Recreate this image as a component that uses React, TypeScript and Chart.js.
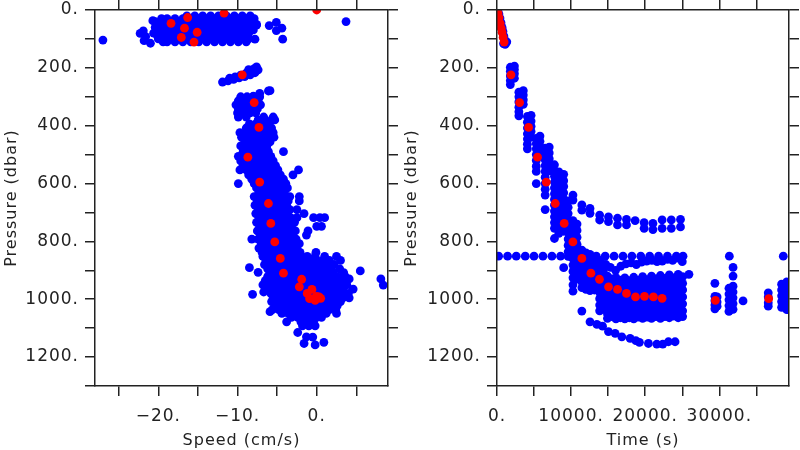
import React, { useEffect, useRef } from 'react';
import { Chart, registerables } from 'chart.js';

Chart.register(...registerables);

// ---------- axes ----------
const pressureTicks = [0, 100, 200, 300, 400, 500, 600, 700, 800, 900, 1000, 1100, 1200, 1300];
const pressureTicksRight = [0, 100, 200, 300, 400, 500, 600, 700, 800, 900, 1000, 1100, 1200];
const pressureLabels = [0, 200, 400, 600, 800, 1000, 1200];
const speedTicks = [-25, -20, -15, -10, -5, 0, 5];
const speedLabels = [-20, -10, 0];
const timeTicks = [0, 5000, 10000, 15000, 20000, 25000, 30000, 35000];
const timeLabels = [0, 10000, 20000, 30000];

// ---------- red (bin means) ----------
const redPressure = [0, 11, 26, 46, 63, 77, 95, 111, 224, 320, 406, 509, 595, 669, 738, 802, 859, 910, 931, 957, 966, 980, 992, 990, 992, 997, 1004, 998];
const redSpeed = [0, -11.7, -16.3, -18.4, -16.7, -15.1, -17.1, -15.5, -9.4, -7.9, -7.3, -8.7, -7.2, -6.1, -5.8, -5.3, -4.6, -4.2, -1.9, -2.2, -0.6, -1.2, -0.1, 0.0, 0.3, 0.5, -0.2, -0.9];
const redTime = [0, 140, 270, 430, 560, 680, 830, 960, 1887, 3050, 4260, 5470, 6645, 7860, 9070, 10240, 11450, 12670, 13830, 15050, 16260, 17470, 18690, 19900, 21110, 22280, 29470, 36660];

// ---------- blue: speed vs pressure ----------
const blobPressure = [20, 30, 40, 50, 60, 70, 80, 90, 100, 110];
const blobSpeeds = [
  [-16.4, -15.4, -14.4, -13.4, -12.4, -11.4, -10.4, -9.4, -8.4],
  [-19.6, -18.9, -17.9, -16.9, -15.9, -14.9, -13.9, -12.9, -11.9, -10.9, -9.9, -8.9, -7.9],
  [-20.4, -19.4, -18.4, -17.4, -16.4, -15.4, -14.4, -13.4, -12.4, -11.4, -10.4, -9.4, -8.4],
  [-20.2, -19.1, -18.1, -17.1, -16.1, -15.1, -14.1, -13.1, -12.1, -11.1, -10.1, -9.1, -8.1, -7.6],
  [-20.4, -19.6, -18.6, -17.6, -16.6, -15.6, -14.6, -13.6, -12.6, -11.6, -10.6, -9.6, -8.6],
  [-20.1, -19.1, -18.1, -17.1, -16.1, -15.1, -14.1, -13.1, -12.1, -11.1, -10.1, -9.1, -8.3],
  [-20.6, -19.6, -18.6, -17.6, -16.6, -15.6, -14.6, -13.6, -12.6, -11.6, -10.6, -9.6, -8.6],
  [-20.1, -19.1, -18.1, -17.1, -16.1, -15.1, -14.1, -13.1, -12.1, -11.1, -10.1, -9.1],
  [-20.0, -19.6, -18.6, -17.6, -16.6, -15.6, -14.6, -13.6, -12.6, -11.6, -10.6, -9.6, -8.6],
  [-19.4, -18.9, -17.9, -16.9, -15.9, -14.9, -13.9, -12.9, -11.9, -10.9, -9.9, -8.9],
];
const speedExtras = [
  [-27.0, 104], [3.7, 40], [-22.3, 81], [-21.9, 72], [-21.6, 92], [-21.8, 106], [-21.0, 115], [-20.7, 37],
  [-6.0, 54], [-5.1, 43], [-4.4, 63], [-5.1, 71], [-4.3, 101], [-7.8, 101], [-8.0, 69], [-7.6, 52],
  [-11.9, 249], [-11.2, 245], [-10.5, 240], [-9.8, 235], [-9.1, 230], [-8.4, 224], [-7.8, 217], [-7.4, 207],
  [-7.6, 197], [-11.0, 236], [-10.3, 231], [-9.6, 225], [-8.9, 218], [-8.2, 211], [-7.9, 203], [-8.6, 206],
  [-6.1, 280], [-7.2, 288], [-8.8, 304], [-8.0, 298], [-5.9, 279],
  [-8.5, 891], [-7.4, 907], [5.5, 902], [8.1, 930], [8.4, 951], [4.1, 930], [-8.1, 983], [-6.7, 975],
  [-5.9, 1043], [-3.8, 1078], [-2.4, 1115], [-1.3, 1130], [-0.5, 1131], [-1.6, 1153], [-0.2, 1158], [0.9, 1149],
];
const bandPressure = [300, 314, 328, 342, 356, 370, 380, 394, 408, 424, 440, 456, 470, 490, 506, 522, 538, 553, 570, 585, 600, 615, 630, 645, 660, 675, 690, 704, 718, 734, 748, 764, 778, 792, 808, 823, 838, 852, 866, 880, 895, 908, 922, 936, 950, 965, 980, 995, 1008, 1022, 1036, 1049, 1063, 1078, 1092];
const bandSpeeds = [
  [-9.6, -8.8, -8.0, -7.2],
  [-9.9, -9.0, -8.2, -7.4],
  [-10.2, -9.4, -8.6, -7.8, -7.1],
  [-9.9, -9.1, -8.3, -7.5],
  [-10.0, -9.2, -8.4, -7.7],
  [-9.9, -8.9, -6.7, -5.5],
  [-7.4, -6.6, -5.7, -5.3],
  [-8.5, -7.7, -6.9, -6.1],
  [-8.9, -8.1, -6.5, -5.7],
  [-9.7, -8.8, -8.0, -7.2, -6.4, -5.5],
  [-9.5, -8.6, -7.8, -7.0, -6.2, -5.4],
  [-9.1, -8.3, -7.5, -6.7, -5.9],
  [-9.6, -8.7, -7.9, -7.1, -6.3],
  [-9.3, -8.5, -7.7, -6.9, -6.1, -4.2],
  [-9.9, -9.0, -8.2, -7.4, -6.6, -5.8],
  [-9.6, -8.8, -7.9, -7.1, -6.3, -5.5],
  [-9.3, -8.5, -7.7, -6.8, -6.0, -5.2],
  [-9.7, -8.9, -8.1, -7.3, -6.5, -5.7, -4.9, -2.3],
  [-8.6, -7.8, -7.0, -6.2, -5.4, -4.6, -3.0],
  [-8.2, -7.4, -6.6, -5.8, -5.0, -4.2],
  [-9.9, -7.9, -7.1, -6.3, -5.5, -4.7, -3.9],
  [-7.6, -6.8, -6.0, -5.2, -4.4, -3.7],
  [-7.3, -6.5, -5.7, -4.9, -4.1],
  [-7.9, -7.1, -6.3, -5.5, -4.7, -3.9, -3.4, -2.2],
  [-7.5, -6.7, -5.9, -5.1, -4.3, -3.6, -2.2],
  [-7.8, -7.0, -6.2, -5.4, -4.6, -3.8],
  [-7.4, -6.6, -5.8, -5.0, -4.2, -3.4, -2.5],
  [-7.7, -6.9, -6.1, -5.3, -4.5, -3.7, -1.6],
  [-7.3, -6.5, -5.7, -4.9, -4.1, -3.3, -2.5, -0.4, 0.4, 1.0],
  [-7.6, -6.8, -6.0, -5.2, -4.4, -3.6, -2.8],
  [-7.2, -6.4, -5.6, -4.8, -4.0, -3.2, 0.0, 0.6],
  [-7.5, -6.7, -5.9, -5.1, -4.3, -3.5, -2.7, -1.1],
  [-7.1, -6.3, -5.5, -4.7, -3.9, -3.1, -1.3],
  [-8.2, -7.4, -6.6, -5.8, -5.0, -4.2, -3.4, -2.6],
  [-7.0, -6.2, -5.4, -4.6, -3.8, -3.0, -2.2],
  [-7.3, -6.5, -5.7, -4.9, -4.1, -3.3, -2.5],
  [-6.9, -6.1, -5.3, -4.5, -3.7, -2.9, -2.1, -0.1],
  [-6.8, -6.0, -5.2, -4.4, -3.6, -2.8, -2.0, -1.2, -0.2, 1.0, 2.5],
  [-6.4, -5.6, -4.8, -4.0, -3.2, -2.4, -1.6, -0.8, 0.0, 0.8, 1.6, 3.0],
  [-6.6, -5.8, -5.0, -4.2, -3.4, -2.6, -1.8, -1.0, -0.2, 0.6, 1.4, 2.2],
  [-6.2, -5.4, -4.6, -3.8, -3.0, -2.2, -1.4, -0.6, 0.2, 1.0, 1.8, 2.9],
  [-5.9, -5.1, -4.3, -3.5, -2.7, -1.9, -1.1, -0.3, 0.5, 1.3, 2.1, 3.4],
  [-6.2, -5.4, -4.6, -3.8, -3.0, -2.2, -1.4, -0.6, 0.2, 1.0, 1.8, 2.6, 3.6],
  [-6.5, -5.7, -4.9, -4.1, -3.3, -2.5, -1.7, -0.9, -0.1, 0.7, 1.5, 2.3, 3.1],
  [-6.8, -6.0, -5.2, -4.4, -3.6, -2.8, -2.0, -1.2, -0.4, 0.4, 1.2, 2.0, 2.8, 3.8],
  [-6.3, -5.5, -4.7, -3.9, -3.1, -2.3, -1.5, -0.7, 0.1, 0.9, 1.7, 2.5, 3.3, 4.6],
  [-5.8, -5.0, -4.2, -3.4, -2.6, -1.8, -1.0, -0.2, 0.6, 1.4, 2.2, 3.0, 4.0],
  [-5.5, -4.7, -3.9, -3.1, -2.3, -1.5, -0.7, 0.1, 0.9, 1.7, 2.5, 3.3, 4.1],
  [-5.7, -5.0, -4.2, -3.4, -2.6, -1.8, -1.0, -0.2, 0.6, 1.4, 2.2, 3.0],
  [-5.3, -4.5, -3.7, -2.9, -2.1, -1.3, -0.5, 0.3, 1.1, 1.9, 2.6],
  [-5.6, -4.8, -4.0, -3.2, -2.4, -1.6, -0.8, 0.0, 0.8, 1.6, 2.4],
  [-4.4, -3.6, -2.8, -2.0, -1.2, -0.4, 0.4, 1.2, 2.5],
  [-3.2, -2.4, -1.6, -0.8, 0.0, 0.6],
  [-2.0, -1.2, -0.4],
  [-1.8, -1.0, -0.2],
];

// ---------- blue: time vs pressure ----------
const timeExtras = [
  [120, 4], [260, 14], [400, 28], [540, 44], [680, 60], [800, 74], [930, 90], [1060, 104], [1200, 114], [1320, 110], [1100, 119], [880, 116],
  [13480, 1087], [14240, 1093], [15040, 1112], [15940, 1118], [16840, 1130], [17960, 1135], [18730, 1143], [19220, 1149],
  [20430, 1153], [21560, 1155], [22370, 1155], [23130, 1147], [24030, 1147],
  [15040, 715], [15040, 732], [16260, 720], [16260, 743], [17470, 724], [17470, 743], [18640, 728], [19850, 735], [19850, 755],
  [21040, 738], [21040, 759], [22280, 726], [22280, 755], [23520, 726], [23520, 755], [24760, 724], [24760, 750],
  [14700, 880], [15300, 890], [16000, 900], [16700, 886], [17400, 878], [18100, 874], [18800, 880], [19500, 872], [20200, 868],
  [20900, 866], [21600, 870], [22300, 868], [23000, 862], [23700, 866], [24400, 858], [25000, 870], [25900, 914], [33200, 1006],
];
const row851Times = [220, 1430, 2600, 3810, 4990, 6200, 7410, 8580, 9790, 11000, 12200, 13400, 14600, 15800, 17000, 18200, 19400, 20600, 21800, 23000, 24200, 25100, 31350, 38630];
const colTimes = [1800, 2350, 2950, 3550, 4100, 4600, 5300, 5800, 6500, 7050, 7750, 8350, 9000, 9600, 10250, 10800, 11450, 12000, 12550, 13150, 13850, 14350,
  14900, 15450, 16050, 16650, 17250, 17850, 18450, 19050, 19650, 20250, 20850, 21450, 22050, 22650, 23250, 23850, 24450, 25050,
  29400, 29700, 31300, 31850, 36600, 38400, 39100, 39500];
const colPressures = [
  [198, 212, 228, 244, 258],
  [194, 206, 220, 236],
  [284, 300, 318, 336, 352, 366],
  [279, 294, 310, 326],
  [368, 388, 408, 428, 446, 464, 480],
  [364, 384, 402, 420, 440],
  [444, 462, 480, 500, 520, 540, 558, 600],
  [436, 454, 472, 490, 506],
  [478, 498, 518, 538, 558, 578, 600, 620, 640, 690],
  [474, 494, 514, 534, 556],
  [535, 555, 575, 595, 615, 635, 655, 675, 695, 715, 735, 755, 790],
  [560, 582, 604, 626, 648, 670, 692, 714, 736, 758, 772],
  [568, 590, 610, 632, 654, 676, 698, 720, 742, 765, 891],
  [660, 682, 704, 726, 748, 770, 792, 814, 836, 852],
  [640, 657, 728, 750, 772, 794, 816, 838, 860, 882, 904, 926, 950, 972],
  [740, 762, 786, 810, 834, 858, 882, 906, 930],
  [674, 692, 830, 852, 874, 896, 918, 940, 960, 1041],
  [840, 862, 884, 906, 928, 948, 966],
  [686, 703, 845, 866, 888, 910, 930, 950, 970, 1078],
  [860, 882, 904, 926, 948, 968],
  [709, 726, 866, 888, 910, 932, 954, 976, 998, 1020, 1040],
  [880, 902, 924, 946, 968, 990, 1012, 1034],
  [920, 942, 964, 986, 1008, 1030, 1050, 1066],
  [930, 952, 974, 996, 1018, 1040, 1060],
  [925, 947, 970, 992, 1014, 1036, 1056, 1068],
  [934, 956, 978, 1000, 1022, 1044, 1064],
  [926, 948, 970, 993, 1016, 1038, 1058, 1068],
  [936, 958, 980, 1002, 1024, 1046, 1064],
  [924, 946, 968, 991, 1014, 1036, 1056, 1068],
  [934, 956, 978, 1000, 1022, 1044, 1062],
  [922, 944, 966, 989, 1012, 1034, 1054, 1066],
  [932, 954, 976, 998, 1020, 1042, 1062],
  [920, 942, 964, 987, 1010, 1032, 1052, 1066],
  [930, 952, 974, 996, 1018, 1040, 1060],
  [918, 940, 962, 985, 1008, 1030, 1050, 1066],
  [928, 950, 972, 994, 1016, 1038, 1060],
  [916, 938, 960, 983, 1006, 1028, 1048, 1064],
  [926, 948, 970, 992, 1014, 1036, 1058],
  [914, 936, 958, 981, 1004, 1026, 1046, 1064],
  [922, 945, 968, 992, 1016, 1040, 1060],
  [945, 990, 1005, 1020, 1033],
  [992, 1010, 1024],
  [962, 982, 1002, 1022, 1042],
  [890, 920, 955, 975, 995, 1015, 1035],
  [978, 992, 1012, 1024],
  [948, 968, 988, 1008, 1028],
  [940, 960, 980, 1000, 1020, 1036],
  [946, 968, 990, 1012],
];

// ---------- build point lists ----------
type P = { x: number; y: number };
const speedBlue: P[] = [];
blobPressure.forEach((p, i) => blobSpeeds[i].forEach((s) => speedBlue.push({ x: s, y: p })));
bandPressure.forEach((p, i) => bandSpeeds[i].forEach((s) => speedBlue.push({ x: s, y: p })));
speedExtras.forEach(([s, p]) => speedBlue.push({ x: s, y: p }));
const speedRed: P[] = redSpeed.map((s, i) => ({ x: s, y: redPressure[i] }));

const timeBlue: P[] = [];
colTimes.forEach((t, i) => colPressures[i].forEach((p) => timeBlue.push({ x: t, y: p })));
row851Times.forEach((t) => timeBlue.push({ x: t, y: 851 }));
timeExtras.forEach(([t, p]) => timeBlue.push({ x: t, y: p }));
const timeRed: P[] = redTime.map((t, i) => ({ x: t, y: redPressure[i] }));

// ---------- styling ----------
const INK = '#222222';
const TICK_FONT = { family: "'DejaVu Sans', sans-serif", size: 17, lineHeight: 1 };
const TITLE_FONT = { family: "'DejaVu Sans', sans-serif", size: 16 };
const DOT = 4.4;

const fmt = (v: number) => (v < 0 ? '\u2212' + Math.abs(v) : String(v)) + '.';

const spacingPlugin = {
  id: 'letterSpacing',
  beforeUpdate(c: any) { c.ctx.letterSpacing = '1px'; },
  beforeDraw(c: any) { c.ctx.letterSpacing = '1px'; },
};

function axis(position: string, min: number, max: number, ticks: number[], labels: number[] | null, size: number, reverse: boolean, title?: string) {
  const horizontal = position === 'top' || position === 'bottom';
  return {
    type: 'linear',
    position,
    min,
    max,
    reverse,
    afterBuildTicks: (s: any) => { s.ticks = ticks.map((v) => ({ value: v })); },
    afterFit: (s: any) => {
      if (horizontal) s.height = size; else s.width = size;
      s.paddingTop = 0;
      s.paddingBottom = 0;
      s.paddingLeft = 0;
      s.paddingRight = 0;
    },
    grid: { drawOnChartArea: false, drawTicks: true, tickLength: 10, tickWidth: 1.5, tickColor: INK, color: INK, lineWidth: 1.5 },
    border: { display: true, color: INK, width: 1.5, z: 1 },
    ticks: {
      display: !!labels,
      autoSkip: false,
      maxRotation: 0,
      minRotation: 0,
      font: TICK_FONT,
      color: INK,
      padding: horizontal ? 12 : 6,
      callback: (v: number) => (labels && labels.includes(v) ? fmt(v) : ''),
    },
    title: title
      ? { display: true, text: title, font: TITLE_FONT, color: INK, padding: horizontal ? { top: 0, bottom: 0 } : { top: 2, bottom: 0 } }
      : { display: false },
  };
}

function makeConfig(blue: P[], red: P[], xMin: number, xMax: number, xTicks: number[], xLabels: number[], xTitle: string, yWidth: number, rightWidth: number): any {
  return {
    type: 'scatter',
    data: {
      datasets: [
        { label: 'mean', data: red, backgroundColor: '#ff0000', pointRadius: DOT, pointHoverRadius: DOT, pointBorderWidth: 0, order: 0, clip: 0 },
        { label: 'all', data: blue, backgroundColor: '#0000ff', pointRadius: DOT, pointHoverRadius: DOT, pointBorderWidth: 0, order: 1, clip: 0 },
      ],
    },
    options: {
      responsive: false,
      animation: false,
      devicePixelRatio: 1,
      events: [],
      layout: { padding: 0 },
      plugins: { legend: { display: false }, tooltip: { enabled: false } },
      scales: {
        x: axis('bottom', xMin, xMax, xTicks, xLabels, 64, false, xTitle),
        x2: axis('top', xMin, xMax, xTicks, null, 10, false),
        y: axis('left', 0, 1300, pressureTicks, pressureLabels, yWidth, true, 'Pressure (dbar)'),
        y2: axis('right', 0, 1300, pressureTicksRight, null, rightWidth, true),
      },
    },
    plugins: [spacingPlugin],
  };
}

function Panel({ left, config }: { left: number; config: () => any }) {
  const ref = useRef<HTMLCanvasElement>(null);
  useEffect(() => {
    const chart = new Chart(ref.current as HTMLCanvasElement, config());
    return () => chart.destroy();
  }, []);
  return (
    <canvas
      ref={ref}
      width={400}
      height={450}
      style={{ position: 'absolute', left, top: 0, width: 400, height: 450, display: 'block' }}
    />
  );
}

export default function App() {
  return (
    <div style={{ position: 'fixed', left: 0, top: 0, width: 800, height: 450, background: '#ffffff', overflow: 'hidden' }}>
      <Panel left={0} config={() => makeConfig(speedBlue, speedRed, -28, 9, speedTicks, speedLabels, 'Speed (cm/s)', 95, 12)} />
      <Panel left={400} config={() => makeConfig(timeBlue, timeRed, 0, 39400, timeTicks, timeLabels, 'Time (s)', 97, 11)} />
    </div>
  );
}
